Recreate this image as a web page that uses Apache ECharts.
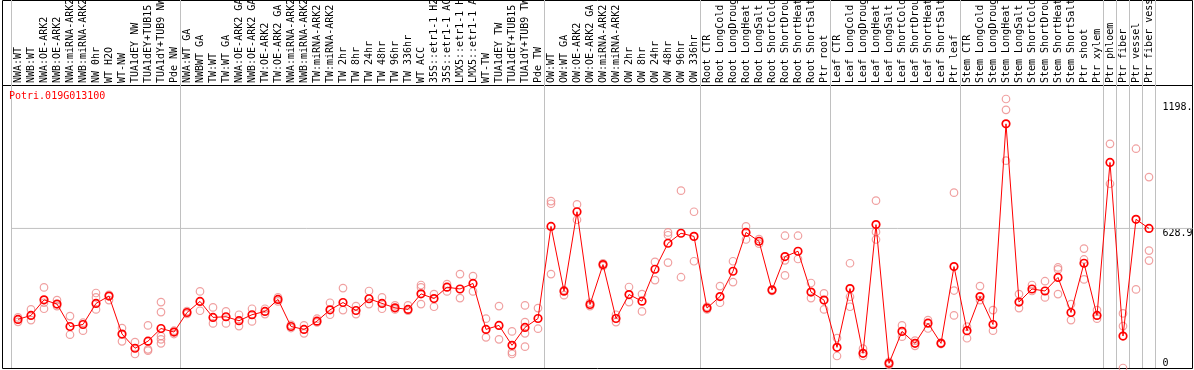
<!DOCTYPE html>
<html><head><meta charset="utf-8">
<script src="https://cdn.jsdelivr.net/npm/echarts@6/dist/echarts.min.js"></script>
<style>html,body{margin:0;padding:0;background:#fff}#c{width:1194px;height:370px}</style>
</head><body><div id="c"></div>
<script>
const geneId = 'Potri.019G013100';
const categories = [
  'NWA:WT','NWB:WT','NWA:OE-ARK2','NWB:OE-ARK2','NWA:miRNA-ARK2','NWB:miRNA-ARK2','NW 0hr','WT H2O','WT-NW','TUA1dEY NW','TUA1dEY+TUB15 NW','TUA1dY+TUB9 NW','Pde NW',
  'NWA:WT GA','NWBWT GA','TW:WT','TW:WT GA','NWA:OE-ARK2 GA','NWB:OE-ARK2 GA','TW:OE-ARK2','TW:OE-ARK2 GA','NWA:miRNA-ARK2 GA','NWB:miRNA-ARK2 GA','TW:miRNA-ARK2','TW:miRNA-ARK2 GA',
  'TW 2hr','TW 8hr','TW 24hr','TW 48hr','TW 96hr','TW 336hr','WT ACC','35S::etr1-1 H2O','35S::etr1-1 ACC','LMX5::etr1-1 H2O','LMX5::etr1-1 ACC','WT-TW','TUA1dEY TW','TUA1dEY+TUB15 TW','TUA1dY+TUB9 TW','Pde TW',
  'OW:WT','OW:WT GA','OW:OE-ARK2','OW:OE-ARK2 GA','OW:miRNA-ARK2','OW:miRNA-ARK2 GA','OW 2hr','OW 8hr','OW 24hr','OW 48hr','OW 96hr','OW 336hr',
  'Root CTR','Root LongCold','Root LongDrought','Root LongHeat','Root LongSalt','Root ShortCold','Root ShortDrought','Root ShortHeat','Root ShortSalt','Ptr root',
  'Leaf CTR','Leaf LongCold','Leaf LongDrought','Leaf LongHeat','Leaf LongSalt','Leaf ShortCold','Leaf ShortDrought','Leaf ShortHeat','Leaf ShortSalt','Ptr leaf',
  'Stem CTR','Stem LongCold','Stem LongDrought','Stem LongHeat','Stem LongSalt','Stem ShortCold','Stem ShortDrought','Stem ShortHeat','Stem ShortSalt','Ptr shoot','Ptr xylem',
  'Ptr phloem','Ptr fiber','Ptr vessel','Ptr fiber vessel'
];
const groupStarts = [0, 13, 41, 53, 63, 73, 84, 85, 86, 87];
const means = [
  219, 237, 307, 288, 187, 196, 291, 324, 153, 89, 121, 178, 162,
  250, 300, 228, 231, 213, 240, 255, 309, 187, 174, 211, 262, 295, 259, 312, 291, 271, 264, 334, 313, 364, 356, 381, 174, 192, 102, 183, 223,
  638, 346, 704, 286, 466, 223, 331, 301, 445, 562, 607, 593,
  270, 322, 436, 611, 571, 351, 502, 526, 342, 306,
  93, 358, 66, 646, 21, 165, 111, 202, 111, 457,
  168, 322, 196, 1100, 297, 356, 347, 408, 250, 472, 237,
  926, 144, 670, 628.9
];
const replicates = [
  [228,208],[264,216],[363,294,267],[306,279],[234,150],[204,168],[338,318,264],[330,306],[180,120],[117,63],[192,84,78],[297,252,144,129,111],[168,153],
  [256,244],[345,258],[273,201],[255,201],[240,189],[267,210],[267,243],[318,300],[194,180],[192,156],[222,205],[294,240],[360,261],[279,243],[347,288],[318,267],[282,264],[282,258],[374,363,288],[333,276],[378,345],[423,315],[414,345],[222,138],[279,129],[165,72,63],[282,207,156,96],[270,177],
  [752,740,423],[328,351],[737,668],[294,279],[472,460],[240,207],[365,297],[333,255],[478,396],[611,598,475],[799,409],[704,481],
  [276,264],[369,294],[481,387],[638,579],[581,560],[347,354],[596,485,417],[596,491],[383,315],[336,264],
  [135,54],[472,321,276],[87,54],[754,613,579],[28,14],[192,141],[123,100],[216,178],[114,108],[790,349,237],
  [186,134],[369,306],[261,168],[1212,1163,934],[333,270],[374,347],[391,318],[453,444,333],[288,216],[538,489,399],[261,222],
  [1010,830],[246,189,0],[988,354],[860,529,484]
];
const yTickValues = [628.9, 1198];
const yTickLabels = ['628.9', '1198.'];
const yZeroLabel = '0';
const refValue = 628.9;
const yMax = 1275;

const FONT = 'DejaVu Sans Mono';
const repPoints = [];
replicates.forEach((arr, i) => arr.forEach(v => repPoints.push([i, v])));

const chart = echarts.init(document.getElementById('c'), null, {renderer: 'canvas'});
const hiddenVal = (g) => ({gridIndex: g, type: 'value', show: false, min: 0, max: 1});
const G = {containLabel: false, outerBoundsMode: 'none'};
chart.setOption({
  backgroundColor: '#fff',
  animation: false,
  title: {
    text: geneId, left: 9, top: 91, padding: 0,
    textStyle: {color: '#ff0000', fontFamily: FONT, fontSize: 10, fontWeight: 'normal'}
  },
  grid: [
    Object.assign({left: 2.5, top: 0.5, width: 1190, height: 85, show: true, borderColor: '#000', borderWidth: 1, backgroundColor: 'rgba(0,0,0,0)'}, G),
    Object.assign({left: 2.5, top: 85.5, width: 1190, height: 283, show: true, borderColor: '#000', borderWidth: 1, backgroundColor: 'rgba(0,0,0,0)'}, G),
    Object.assign({left: 11.5, top: 0, width: 1144, height: 368}, G),
    Object.assign({left: 11.5, top: 85, width: 1144, height: 283}, G),
    Object.assign({left: 11.5, top: 85, width: 1181, height: 283}, G)
  ],
  xAxis: [
    hiddenVal(0), hiddenVal(1),
    {gridIndex: 2, type: 'category', data: categories, boundaryGap: true,
     axisLine: {show: false}, axisTick: {show: false}, axisLabel: {show: false},
     splitLine: {show: true, interval: (i) => groupStarts.includes(i), lineStyle: {color: '#c0c0c0', width: 1}}},
    {gridIndex: 3, type: 'category', data: categories, boundaryGap: true, position: 'top',
     axisLine: {show: false}, axisTick: {show: false}, splitLine: {show: false},
     axisLabel: {interval: 0, rotate: 90, margin: 2, color: '#000', fontFamily: FONT, fontSize: 10}},
    hiddenVal(4)
  ],
  yAxis: [
    hiddenVal(0), hiddenVal(1), hiddenVal(2),
    {gridIndex: 3, type: 'value', position: 'right', min: 0, max: yMax,
     axisLine: {show: false}, axisTick: {show: false}, splitLine: {show: false},
     axisLabel: {customValues: yTickValues, formatter: (v) => yTickLabels[yTickValues.indexOf(v)] ?? String(v),
       verticalAlign: 'top', margin: 7, color: '#000', fontFamily: FONT, fontSize: 10}},
    {gridIndex: 3, type: 'value', position: 'right', min: 0, max: yMax,
     axisLine: {show: false}, axisTick: {show: false}, splitLine: {show: false},
     axisLabel: {customValues: [0], formatter: () => yZeroLabel,
       verticalAlign: 'bottom', margin: 7, color: '#000', fontFamily: FONT, fontSize: 10}},
    {gridIndex: 4, type: 'value', show: false, min: 0, max: yMax}
  ],
  series: [
    {type: 'line', xAxisIndex: 4, yAxisIndex: 5, data: [[0, refValue], [1, refValue]],
     symbol: 'none', silent: true, z: 1, lineStyle: {color: '#c0c0c0', width: 1}},
    {type: 'scatter', xAxisIndex: 3, yAxisIndex: 3, data: repPoints, symbol: 'circle', symbolSize: 7.5, z: 2,
     itemStyle: {color: 'rgba(0,0,0,0)', borderColor: '#ec8a8a', borderWidth: 1.2}},
    {type: 'line', xAxisIndex: 3, yAxisIndex: 3, data: means, symbol: 'circle', symbolSize: 7.5, z: 3,
     lineStyle: {color: '#ff0000', width: 1},
     itemStyle: {color: 'rgba(0,0,0,0)', borderColor: '#ff0000', borderWidth: 1.7}}
  ]
});
</script>
</body></html>
